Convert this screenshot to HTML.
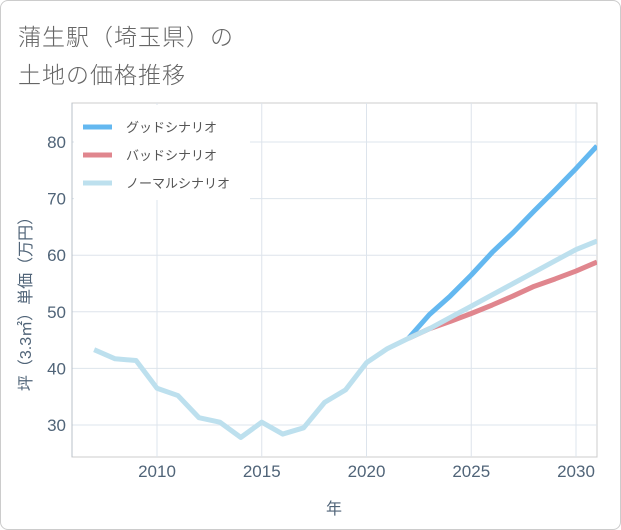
<!DOCTYPE html>
<html><head><meta charset="utf-8">
<style>
html,body{margin:0;padding:0;background:#fff;}
#wrap{position:relative;width:619px;height:528px;border:1px solid #ccc;border-radius:8px;overflow:hidden;background:#fff;}
.title{position:absolute;left:17px;font-family:"Liberation Sans","Noto Sans CJK JP",sans-serif;font-size:23px;color:#666;letter-spacing:1px;font-weight:300;}
svg text{font-family:"Liberation Sans","Noto Sans CJK JP",sans-serif;}
</style></head>
<body>
<div id="wrap">
<div class="title" style="top:17px">蒲生駅（埼玉県）の</div>
<div class="title" style="top:55px">土地の価格推移</div>
<svg id="chart" width="621" height="530" style="position:absolute;left:-1px;top:-1px"></svg>
</div>
<script>
const years = [2007,2008,2009,2010,2011,2012,2013,2014,2015,2016,2017,2018,2019,2020,2021,2022,2023,2024,2025,2026,2027,2028,2029,2030,2031];
const normalValues = [43.3,41.7,41.4,36.5,35.2,31.3,30.5,27.8,30.5,28.4,29.5,34,36.2,41,43.5,45.3,47,49,51,53,55,57,59,61,62.5];
const forecastYears = [2022,2023,2024,2025,2026,2027,2028,2029,2030,2031];
const goodValues = [45.3,49.5,52.8,56.5,60.5,64,67.8,71.5,75.3,79.3];
const badValues = [45.3,47,48.3,49.7,51.2,52.8,54.5,55.8,57.2,58.8];
const xTicks = [2010,2015,2020,2025,2030];
const yTicks = [30,40,50,60,70,80];

const svg = document.getElementById('chart');
const NS = 'http://www.w3.org/2000/svg';
const L=72,R=597,T=103,B=457;
const TXT='#506478';
const x = v => 157 + (v-2010)*(576-157)/20;
const y = v => 425 - (v-30)*(425-142)/50;
function mk(tag, attrs){const e=document.createElementNS(NS,tag);for(const k in attrs)e.setAttribute(k,attrs[k]);svg.appendChild(e);return e;}

const frame = mk('rect',{x:L,y:T,width:R-L,height:B-T,fill:'none',stroke:'#ccc'});


xTicks.forEach(t=>{
  const g=mk('line',{x1:x(t),x2:x(t),y1:T,y2:B,stroke:'#dde4ec'});
  
  
  const tx=mk('text',{x:x(t),y:477,'text-anchor':'middle','font-size':17,fill:TXT});
  tx.textContent=t;
  
  
});
yTicks.forEach(t=>{
  const g=mk('line',{x1:L,x2:R,y1:y(t),y2:y(t),stroke:'#dde4ec'});
  
  
  const tx=mk('text',{x:66,y:y(t)+6,'text-anchor':'end','font-size':17,fill:TXT});
  tx.textContent=t;
  
  
});
const ax=mk('line',{x1:L,x2:L,y1:T,y2:B,stroke:'#b8c0c8'});


const xt=mk('text',{x:334,y:514,'text-anchor':'middle','font-size':16,fill:TXT});
xt.textContent='年';


const yt=mk('text',{x:0,y:0,'text-anchor':'middle','font-size':16,fill:TXT,transform:'translate(31,300) rotate(-90)'});
yt.textContent='坪（3.3㎡）単価（万円）';



const clip=mk('clipPath',{id:'pc'});
const cr=document.createElementNS(NS,'rect');cr.setAttribute('x',L);cr.setAttribute('y',T);cr.setAttribute('width',R-L);cr.setAttribute('height',B-T);clip.appendChild(cr);

function line(xs, vs, color, name){
  const p=mk('polyline',{points:xs.map((v,i)=>x(v)+','+y(vs[i])).join(' '),fill:'none',stroke:color,'stroke-width':5,'stroke-linejoin':'round','clip-path':'url(#pc)'});
  
  
}
line(forecastYears,goodValues,'#64b8f0','good-scenario-line');
line(forecastYears,badValues,'#e0868e','bad-scenario-line');
line(years,normalValues,'#bde0ee','normal-scenario-line');

const lg=mk('rect',{x:74,y:105,width:176,height:95,fill:'#fff'});


[['グッドシナリオ','#64b8f0',127],['バッドシナリオ','#e0868e',155],['ノーマルシナリオ','#bde0ee',183]].forEach(([lab,c,yy])=>{
  const s=mk('line',{x1:83,x2:112,y1:yy,y2:yy,stroke:c,'stroke-width':5});
  
  
  const t=mk('text',{x:126,y:yy+5,'font-size':13,fill:'#555'});
  t.textContent=lab;
  
  
});
</script>
</body></html>
